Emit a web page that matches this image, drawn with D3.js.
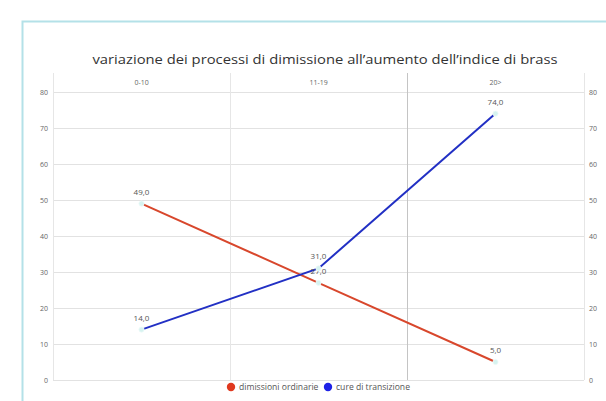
<!DOCTYPE html>
<html>
<head>
<meta charset="utf-8">
<script src="https://cdn.jsdelivr.net/npm/d3@7/dist/d3.min.js"></script>
<style>
  html, body { margin: 0; padding: 0; background: #fff; }
  svg { display: block; font-family: "Open Sans", "Liberation Sans", Arial, sans-serif; }
</style>
</head>
<body>
<svg id="chart" width="606" height="401"></svg>
<script>
// Fasce dell'indice di Brass
const categories = ["0-10", "11-19", "20>"];
// Serie
const dimissioniOrdinarie = [49, 27, 5];
const cureDiTransizione = [14, 31, 74];
const seriesNames = ["dimissioni ordinarie", "cure di transizione"];
const yTicks = [0, 10, 20, 30, 40, 50, 60, 70, 80];
const title = "variazione dei processi di dimissione all\u2019aumento dell\u2019indice di brass";

const FONT = "Open Sans, Liberation Sans, Arial, sans-serif";

const series = [
  { name: seriesNames[0], values: dimissioniOrdinarie, color: "#d8472c" },
  { name: seriesNames[1], values: cureDiTransizione, color: "#2230c4" }
];

const svg = d3.select("#chart");

// cornice
svg.append("rect")
  .attr("x", 22.5).attr("y", 21.5)
  .attr("width", 620).attr("height", 400)
  .attr("fill", "#fff")
  .attr("stroke", "#b4e1e8").attr("stroke-width", 2);

const x = d3.scaleBand().domain(categories).range([53, 584]).padding(0);
const y = d3.scaleLinear().domain([0, 80]).range([380, 92]);
const cx = d => x(d) + x.bandwidth() / 2;

// griglia orizzontale
svg.append("g")
  .selectAll("line")
  .data(yTicks)
  .join("line")
  .attr("x1", 53).attr("x2", 584)
  .attr("y1", d => y(d) + 0.5).attr("y2", d => y(d) + 0.5)
  .attr("stroke", "#e2e2e2").attr("stroke-width", 1.2);

// separatori verticali delle categorie
const bounds = categories.map(c => x(c)).concat([x.range()[1]]);
svg.append("g")
  .selectAll("line")
  .data(bounds)
  .join("line")
  .attr("x1", d => Math.round(d) + 0.5).attr("x2", d => Math.round(d) + 0.5)
  .attr("y1", 73).attr("y2", 380)
  .attr("stroke", (d, i) => i === 2 ? "#c4c4c4" : "#e6e6e6")
  .attr("stroke-width", 1);

// assi y sinistro e destro
const yLeft = d3.axisLeft(y).tickValues(yTicks).tickSize(0).tickPadding(3);
const yRight = d3.axisRight(y).tickValues(yTicks).tickSize(0).tickPadding(3);
const gl = svg.append("g").attr("transform", "translate(51,0)").call(yLeft);
const gr = svg.append("g").attr("transform", "translate(586,0)").call(yRight);
[gl, gr].forEach(g => {
  g.select(".domain").remove();
  g.selectAll("text").attr("font-size", 7).attr("fill", "#666")
    .attr("font-family", FONT);
});

// asse x in alto
const xTop = d3.axisTop(x).tickSize(0).tickPadding(0);
const gx = svg.append("g").attr("transform", "translate(0,85)").call(xTop);
gx.select(".domain").remove();
gx.selectAll("text").attr("font-size", 7).attr("fill", "#666")
  .attr("font-family", FONT);

// titolo
svg.append("text")
  .attr("x", 325).attr("y", 64)
  .attr("text-anchor", "middle")
  .attr("font-size", 13.5)
  .attr("fill", "#333")
  .attr("textLength", 465)
  .attr("lengthAdjust", "spacingAndGlyphs")
  .text(title);

// linee
const line = d3.line().x((d, i) => cx(categories[i])).y(d => y(d));
svg.append("g")
  .selectAll("path")
  .data(series)
  .join("path")
  .attr("d", s => line(s.values))
  .attr("fill", "none")
  .attr("stroke", s => s.color)
  .attr("stroke-width", 2);

// marcatori ed etichette dei valori
series.forEach(s => {
  const g = svg.append("g");
  g.selectAll("circle")
    .data(s.values)
    .join("circle")
    .attr("cx", (d, i) => cx(categories[i]))
    .attr("cy", d => y(d))
    .attr("r", 2.6)
    .attr("fill", "#d6f3f0")
    .attr("stroke", "#eefaf9").attr("stroke-width", 0.8);
  g.selectAll("text")
    .data(s.values)
    .join("text")
    .attr("x", (d, i) => cx(categories[i]))
    .attr("y", d => y(d) - 9)
    .attr("text-anchor", "middle")
    .attr("font-size", 8)
    .attr("fill", "#555")
    .text(d => d.toFixed(1).replace(".", ","));
});

// legenda
const legend = svg.append("g");
const legendItems = [
  { name: series[0].name, color: "#e0391f", x: 231 },
  { name: series[1].name, color: "#1e22e6", x: 328 }
];
legendItems.forEach(it => {
  legend.append("circle").attr("cx", it.x).attr("cy", 387).attr("r", 4.2).attr("fill", it.color);
  legend.append("text").attr("x", it.x + 8).attr("y", 390)
    .attr("font-size", 8.6).attr("fill", "#555").text(it.name);
});
</script>
</body>
</html>
